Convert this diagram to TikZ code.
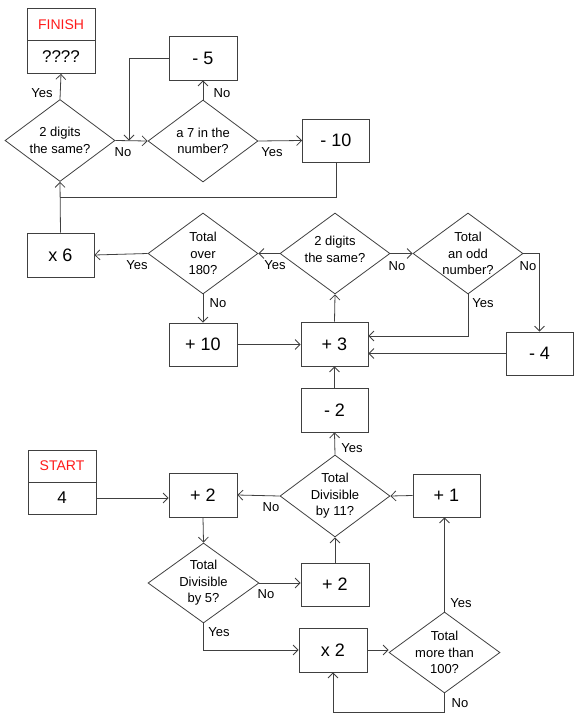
\documentclass[tikz,border=0pt]{standalone}
\usepackage{fontspec}
\setmainfont{Liberation Sans}
\usetikzlibrary{shapes.geometric,arrows.meta}
\definecolor{ln}{HTML}{404040}
\definecolor{fred}{HTML}{FF1A1A}
\tikzset{
  box/.style={draw=ln, line width=0.8pt, rectangle, inner sep=0pt, minimum width=68pt, minimum height=44pt, font=\fontsize{18}{20}\selectfont},
  half/.style={draw=ln, line width=0.8pt, rectangle, inner sep=0pt, minimum width=68pt, minimum height=32pt},
  dia/.style={draw=ln, line width=0.8pt, diamond, inner sep=0pt, minimum width=110pt, minimum height=82pt},
  dtext/.style={align=center, font=\fontsize{13}{16.5}\selectfont, inner sep=0pt},
  lbl/.style={font=\fontsize{13}{15}\selectfont, inner sep=0pt},
  arr/.style={draw=ln, line width=0.8pt, -{Straight Barb[length=5pt,width=10pt]}},
  ln/.style={draw=ln, line width=0.8pt}
}
\begin{document}
\begin{tikzpicture}[x=1pt,y=-1pt]
\useasboundingbox (0,0) rectangle (583,723);
% boxes
\node[half, font=\fontsize{14}{16}\selectfont, text=fred] (fin) at (61,24.5) {FINISH};
\node[half, minimum height=33pt, font=\fontsize{17}{19}\selectfont] (finv) at (61,57) {????};
\node[box] (m5) at (203,58) {- 5};
\node[box, minimum width=67pt, minimum height=43pt] (m10) at (336,140.5) {- 10};
\node[box, minimum width=67pt] (x6) at (60.5,255) {x 6};
\node[box, minimum height=43pt] (p10) at (203,344.5) {+ 10};
\node[box, minimum width=67pt] (p3) at (334.5,344) {+ 3};
\node[box, minimum width=67pt, minimum height=43pt] (m4) at (539.5,353.5) {- 4};
\node[box, minimum width=67pt] (m2) at (334.5,410) {- 2};
\node[box, minimum width=67pt, minimum height=43pt] (p1) at (446.5,495.5) {+ 1};
\node[box] (p2a) at (203,495) {+ 2};
\node[half, font=\fontsize{14}{16}\selectfont, text=fred] (st) at (62,466) {START};
\node[half, font=\fontsize{17}{19}\selectfont] (sv) at (62,498) {4};
\node[box, minimum height=43pt] (p2b) at (335,584.5) {+ 2};
\node[box] (x2) at (333,650) {x 2};
% diamonds
\node[dia, label={[dtext]center:{2 digits\\the same?}}] (D1) at (60,140.5) {};
\node[dia, label={[dtext]center:{a 7 in the\\number?}}] (D2) at (203,141) {};
\node[dia, minimum height=81pt, label={[dtext]center:{Total\\over\\180?}}] (D3) at (203,253.5) {};
\node[dia, minimum height=81pt, label={[dtext, yshift=4pt]center:{2 digits\\the same?}}] (D4) at (335,253.5) {};
\node[dia, minimum height=81pt, label={[dtext]center:{Total\\an odd\\number?}}] (D5) at (468,253.5) {};
\node[dia, label={[dtext]center:{Total\\Divisible\\by 11?}}] (D6) at (335,496) {};
\node[dia, minimum width=111pt, minimum height=80pt, label={[dtext]center:{Total\\Divisible\\by 5?}}] (D7) at (203.5,583) {};
\node[dia, minimum width=111pt, minimum height=81pt, label={[dtext]center:{Total\\more than\\100?}}] (D8) at (444.5,652.5) {};
% connectors
\coordinate (j1) at (129,140.5);
\coordinate (j2) at (60,197);
\draw[arr] (D1.north) -- (finv.south);
\draw[arr] (D2.north) -- (m5.south);
\draw[arr] (m5.west) -| (j1);
\draw[arr] (D1.east) -- (D2.west);
\draw[arr] (D2.east) -- (m10.west);
\draw[ln] (m10.south) |- (j2);
\draw[arr] (x6.north) -- (D1.south);
\draw[arr] (D3.west) -- (x6.east);
\draw[arr] (D4.west) -- (D3.east);
\draw[arr] (D3.south) -- (p10.north);
\draw[arr] (p10.east) -- (p10.east -| p3.west);
\draw[arr] (p3.north) -- (D4.south);
\draw[arr] (D4.east) -- (D5.west);
\draw[arr] (D5.south) |- ([yshift=8pt]p3.east);
\draw[arr] (D5.east) -| (m4.north);
\draw[arr] (m4.west) -- (m4.west -| p3.east);
\draw[arr] (m2.north) -- (p3.south);
\draw[arr] (D6.north) -- (m2.south);
\draw[arr] (p1.west) -- (D6.east);
\draw[arr] (D6.west) -- (p2a.east);
\draw[arr] (sv.east) -- (sv.east -| p2a.west);
\draw[arr] (p2a.south) -- (D7.north);
\draw[arr] (D7.east) -- (D7.east -| p2b.west);
\draw[arr] (p2b.north) -- (D6.south);
\draw[arr] (D7.south) |- (x2.west);
\draw[arr] (x2.east) -- (x2.east -| D8.west);
\draw[arr] (D8.north) -- (D8.north |- p1.south);
\draw[arr] (D8.south) -- ++(0,19) -| (x2.south);
% labels
\node[lbl] (l1) at (42,93) {Yes};
\node[lbl] (l2) at (222,93) {No};
\node[lbl] (l3) at (123,152) {No};
\node[lbl] (l4) at (272,152) {Yes};
\node[lbl] (l5) at (137,265) {Yes};
\node[lbl] (l6) at (275,265) {Yes};
\node[lbl] (l7) at (218,303) {No};
\node[lbl] (l8) at (397,266) {No};
\node[lbl] (l9) at (528,266) {No};
\node[lbl] (l10) at (483,303) {Yes};
\node[lbl] (l11) at (352,448) {Yes};
\node[lbl] (l12) at (271,507) {No};
\node[lbl] (l13) at (266,594) {No};
\node[lbl] (l14) at (219,632) {Yes};
\node[lbl] (l15) at (461,603) {Yes};
\node[lbl] (l16) at (460,703) {No};
\end{tikzpicture}
\end{document}
